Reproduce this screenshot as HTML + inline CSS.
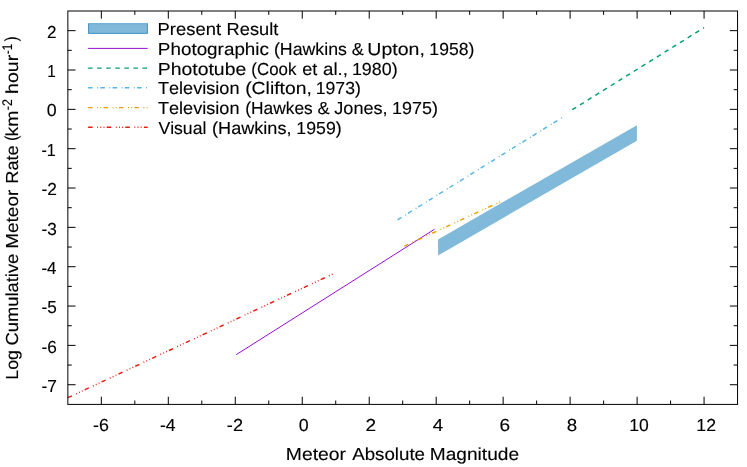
<!DOCTYPE html>
<html><head><meta charset="utf-8"><title>Meteor rate</title>
<style>html,body{margin:0;padding:0;background:#fff;}svg{display:block;will-change:transform;}text{font-family:"Liberation Sans", sans-serif;fill:#000;text-rendering:geometricPrecision;font-kerning:none;stroke:#000;stroke-width:0.12px;}</style></head><body>
<svg width="747" height="467" viewBox="0 0 747 467">
<rect x="0" y="0" width="747" height="467" fill="#ffffff"/>
<path d="M101.33 404.40V396.70M101.33 11.00V18.70M134.82 404.40V400.50M134.82 11.00V14.90M168.31 404.40V396.70M168.31 11.00V18.70M201.79 404.40V400.50M201.79 11.00V14.90M235.28 404.40V396.70M235.28 11.00V18.70M268.76 404.40V400.50M268.76 11.00V14.90M302.25 404.40V396.70M302.25 11.00V18.70M335.73 404.40V400.50M335.73 11.00V14.90M369.22 404.40V396.70M369.22 11.00V18.70M402.70 404.40V400.50M402.70 11.00V14.90M436.18 404.40V396.70M436.18 11.00V18.70M469.67 404.40V400.50M469.67 11.00V14.90M503.15 404.40V396.70M503.15 11.00V18.70M536.64 404.40V400.50M536.64 11.00V14.90M570.12 404.40V396.70M570.12 11.00V18.70M603.61 404.40V400.50M603.61 11.00V14.90M637.10 404.40V396.70M637.10 11.00V18.70M670.58 404.40V400.50M670.58 11.00V14.90M704.07 404.40V396.70M704.07 11.00V18.70M67.85 384.73H75.55M737.55 384.73H729.85M67.85 365.06H71.75M737.55 365.06H733.65M67.85 345.39H75.55M737.55 345.39H729.85M67.85 325.72H71.75M737.55 325.72H733.65M67.85 306.05H75.55M737.55 306.05H729.85M67.85 286.38H71.75M737.55 286.38H733.65M67.85 266.71H75.55M737.55 266.71H729.85M67.85 247.04H71.75M737.55 247.04H733.65M67.85 227.37H75.55M737.55 227.37H729.85M67.85 207.70H71.75M737.55 207.70H733.65M67.85 188.03H75.55M737.55 188.03H729.85M67.85 168.36H71.75M737.55 168.36H733.65M67.85 148.69H75.55M737.55 148.69H729.85M67.85 129.02H71.75M737.55 129.02H733.65M67.85 109.35H75.55M737.55 109.35H729.85M67.85 89.68H71.75M737.55 89.68H733.65M67.85 70.01H75.55M737.55 70.01H729.85M67.85 50.34H71.75M737.55 50.34H733.65M67.85 30.67H75.55M737.55 30.67H729.85" stroke="#000" stroke-width="1" fill="none"/>
<g transform="translate(0 430.80) scale(1 1.070)"><text x="93.01" y="0.00" font-size="16.30" textLength="15.88" lengthAdjust="spacingAndGlyphs">-6</text><text x="159.92" y="0.00" font-size="16.30" textLength="15.70" lengthAdjust="spacingAndGlyphs">-4</text><text x="226.89" y="0.00" font-size="16.30" textLength="16.23" lengthAdjust="spacingAndGlyphs">-2</text><text x="298.81" y="0.00" font-size="16.30" textLength="9.89" lengthAdjust="spacingAndGlyphs">0</text><text x="365.44" y="0.00" font-size="16.30" textLength="10.62" lengthAdjust="spacingAndGlyphs">2</text><text x="432.77" y="0.00" font-size="16.30" textLength="10.48" lengthAdjust="spacingAndGlyphs">4</text><text x="499.53" y="0.00" font-size="16.30" textLength="10.61" lengthAdjust="spacingAndGlyphs">6</text><text x="566.79" y="0.00" font-size="16.30" textLength="10.43" lengthAdjust="spacingAndGlyphs">8</text><text x="629.36" y="0.00" font-size="16.30" textLength="19.52" lengthAdjust="spacingAndGlyphs">10</text><text x="696.35" y="0.00" font-size="16.30" textLength="19.74" lengthAdjust="spacingAndGlyphs">12</text></g>
<g transform="translate(0 392.12) scale(1 1.070)"><text x="41.43" y="0.00" font-size="16.30" textLength="15.45" lengthAdjust="spacingAndGlyphs">-7</text></g>
<g transform="translate(0 352.72) scale(1 1.070)"><text x="41.43" y="0.00" font-size="16.30" textLength="15.32" lengthAdjust="spacingAndGlyphs">-6</text></g>
<g transform="translate(0 313.32) scale(1 1.070)"><text x="41.44" y="0.00" font-size="16.30" textLength="15.29" lengthAdjust="spacingAndGlyphs">-5</text></g>
<g transform="translate(0 273.92) scale(1 1.070)"><text x="41.45" y="0.00" font-size="16.30" textLength="15.05" lengthAdjust="spacingAndGlyphs">-4</text></g>
<g transform="translate(0 234.52) scale(1 1.070)"><text x="41.43" y="0.00" font-size="16.30" textLength="15.32" lengthAdjust="spacingAndGlyphs">-3</text></g>
<g transform="translate(0 195.12) scale(1 1.070)"><text x="41.43" y="0.00" font-size="16.30" textLength="15.45" lengthAdjust="spacingAndGlyphs">-2</text></g>
<g transform="translate(0 155.72) scale(1 1.070)"><text x="41.49" y="0.00" font-size="16.30" textLength="14.30" lengthAdjust="spacingAndGlyphs">-1</text></g>
<g transform="translate(0 116.32) scale(1 1.070)"><text x="46.81" y="0.00" font-size="16.30" textLength="9.89" lengthAdjust="spacingAndGlyphs">0</text></g>
<g transform="translate(0 76.92) scale(1 1.070)"><text x="47.23" y="0.00" font-size="16.30" textLength="8.51" lengthAdjust="spacingAndGlyphs">1</text></g>
<g transform="translate(0 37.52) scale(1 1.070)"><text x="47.14" y="0.00" font-size="16.30" textLength="9.52" lengthAdjust="spacingAndGlyphs">2</text></g>
<g transform="translate(0 460.00) scale(1 1.070)"><text x="285.81" y="0.00" font-size="16.30" textLength="60.21" lengthAdjust="spacingAndGlyphs">Meteor</text><text x="352.16" y="0.00" font-size="16.30" textLength="72.87" lengthAdjust="spacingAndGlyphs">Absolute</text><text x="429.83" y="0.00" font-size="16.30" textLength="89.22" lengthAdjust="spacingAndGlyphs">Magnitude</text></g>
<g transform="translate(17.90 379.00) rotate(-90) scale(1 1.070)"><text x="-0.65" y="0.00" font-size="16.30" textLength="29.49" lengthAdjust="spacingAndGlyphs">Log</text><text x="33.57" y="0.00" font-size="16.30" textLength="91.75" lengthAdjust="spacingAndGlyphs">Cumulative</text><text x="130.24" y="0.00" font-size="16.30" textLength="59.07" lengthAdjust="spacingAndGlyphs">Meteor</text><text x="195.20" y="0.00" font-size="16.30" textLength="38.61" lengthAdjust="spacingAndGlyphs">Rate</text><text x="238.09" y="-0.65" font-size="16.30" textLength="5.40" lengthAdjust="spacingAndGlyphs">(</text><text x="242.60" y="0.00" font-size="16.30" textLength="25.78" lengthAdjust="spacingAndGlyphs">km</text><text x="268.85" y="-5.14" font-size="13.04" textLength="11.08" lengthAdjust="spacingAndGlyphs">-2</text><text x="285.04" y="0.00" font-size="16.30" textLength="39.18" lengthAdjust="spacingAndGlyphs">hour</text><text x="324.79" y="-5.14" font-size="13.04" textLength="10.28" lengthAdjust="spacingAndGlyphs">-1</text><text x="337.72" y="-0.65" font-size="16.30" textLength="4.77" lengthAdjust="spacingAndGlyphs">)</text></g>
<polygon points="438.1,239.4 636.9,125.2 636.9,140.7 438.1,255.4" fill="#80b9d9"/>
<line x1="236.2" y1="354.7" x2="434.6" y2="229.2" stroke="#9400d3" stroke-width="0.95"/>
<line x1="572.3" y1="109.7" x2="704.0" y2="27.7" stroke="#009e73" stroke-width="1.45" stroke-dasharray="4.53,4.53"/>
<line x1="397.55" y1="219.8" x2="561.9" y2="117.7" stroke="#56b4e9" stroke-width="1.45" stroke-dasharray="4.53,4.53,0.91,2.27"/>
<line x1="404.2" y1="246.2" x2="500.3" y2="201.8" stroke="#e69f00" stroke-width="1.45" stroke-dasharray="4.53,4.53,0.91,2.27,0.91,2.27"/>
<line x1="67.85" y1="397.7" x2="332.6" y2="274.1" stroke="#e51e10" stroke-width="1.45" stroke-dasharray="4.53,4.53,0.91,2.27,0.91,2.27,0.91,2.27"/>
<rect x="88.07" y="23.30" width="59.80" height="10.56" fill="#80b9d9"/>
<path d="M88.57 23.3V33.36H147.37V23.3" fill="none" stroke="#4096c6" stroke-width="1"/>
<path d="M89.07 23.8H146.87" fill="none" stroke="#62a8d1" stroke-width="1"/>
<line x1="88.10" y1="48.40" x2="147.70" y2="48.40" stroke="#9400d3" stroke-width="0.95"/>
<line x1="88.10" y1="68.10" x2="147.70" y2="68.10" stroke="#009e73" stroke-width="1.45" stroke-dasharray="4.53,4.53"/>
<line x1="88.10" y1="87.80" x2="147.70" y2="87.80" stroke="#56b4e9" stroke-width="1.45" stroke-dasharray="4.53,4.53,0.91,2.27"/>
<line x1="88.10" y1="107.60" x2="147.70" y2="107.60" stroke="#e69f00" stroke-width="1.45" stroke-dasharray="4.53,4.53,0.91,2.27,0.91,2.27"/>
<line x1="88.10" y1="127.30" x2="147.70" y2="127.30" stroke="#e51e10" stroke-width="1.45" stroke-dasharray="4.53,4.53,0.91,2.27,0.91,2.27,0.91,2.27"/>
<g transform="translate(0 35.10) scale(1 1.070)"><text x="157.59" y="0.00" font-size="16.30" textLength="63.45" lengthAdjust="spacingAndGlyphs">Present</text><text x="226.60" y="0.00" font-size="16.30" textLength="51.73" lengthAdjust="spacingAndGlyphs">Result</text></g>
<g transform="translate(0 54.80) scale(1 1.070)"><text x="157.85" y="0.00" font-size="16.30" textLength="111.14" lengthAdjust="spacingAndGlyphs">Photographic</text><text x="273.90" y="0.00" font-size="16.30" textLength="73.04" lengthAdjust="spacingAndGlyphs">(Hawkins</text><text x="351.87" y="0.00" font-size="16.30" textLength="12.01" lengthAdjust="spacingAndGlyphs">&amp;</text><text x="367.29" y="0.00" font-size="16.30" textLength="57.56" lengthAdjust="spacingAndGlyphs">Upton,</text><text x="429.36" y="0.00" font-size="16.30" textLength="45.03" lengthAdjust="spacingAndGlyphs">1958)</text></g>
<g transform="translate(0 74.50) scale(1 1.070)"><text x="157.81" y="0.00" font-size="16.30" textLength="88.45" lengthAdjust="spacingAndGlyphs">Phototube</text><text x="251.35" y="0.00" font-size="16.30" textLength="45.02" lengthAdjust="spacingAndGlyphs">(Cook</text><text x="302.23" y="0.00" font-size="16.30" textLength="15.10" lengthAdjust="spacingAndGlyphs">et</text><text x="323.00" y="0.00" font-size="16.30" textLength="24.98" lengthAdjust="spacingAndGlyphs">al.,</text><text x="351.94" y="0.00" font-size="16.30" textLength="45.67" lengthAdjust="spacingAndGlyphs">1980)</text></g>
<g transform="translate(0 94.20) scale(1 1.070)"><text x="157.99" y="0.00" font-size="16.30" textLength="81.48" lengthAdjust="spacingAndGlyphs">Television</text><text x="245.20" y="0.00" font-size="16.30" textLength="66.64" lengthAdjust="spacingAndGlyphs">(Clifton,</text><text x="315.76" y="0.00" font-size="16.30" textLength="45.14" lengthAdjust="spacingAndGlyphs">1973)</text></g>
<g transform="translate(0 113.90) scale(1 1.070)"><text x="157.99" y="0.00" font-size="16.30" textLength="81.48" lengthAdjust="spacingAndGlyphs">Television</text><text x="245.33" y="0.00" font-size="16.30" textLength="67.40" lengthAdjust="spacingAndGlyphs">(Hawkes</text><text x="317.46" y="0.00" font-size="16.30" textLength="12.12" lengthAdjust="spacingAndGlyphs">&amp;</text><text x="334.32" y="0.00" font-size="16.30" textLength="53.31" lengthAdjust="spacingAndGlyphs">Jones,</text><text x="392.03" y="0.00" font-size="16.30" textLength="45.88" lengthAdjust="spacingAndGlyphs">1975)</text></g>
<g transform="translate(0 133.60) scale(1 1.070)"><text x="158.42" y="0.00" font-size="16.30" textLength="47.96" lengthAdjust="spacingAndGlyphs">Visual</text><text x="212.08" y="0.00" font-size="16.30" textLength="79.45" lengthAdjust="spacingAndGlyphs">(Hawkins,</text><text x="296.35" y="0.00" font-size="16.30" textLength="45.35" lengthAdjust="spacingAndGlyphs">1959)</text></g>
<rect x="67.85" y="11.00" width="669.70" height="393.40" fill="none" stroke="#000" stroke-width="1"/>
</svg></body></html>
